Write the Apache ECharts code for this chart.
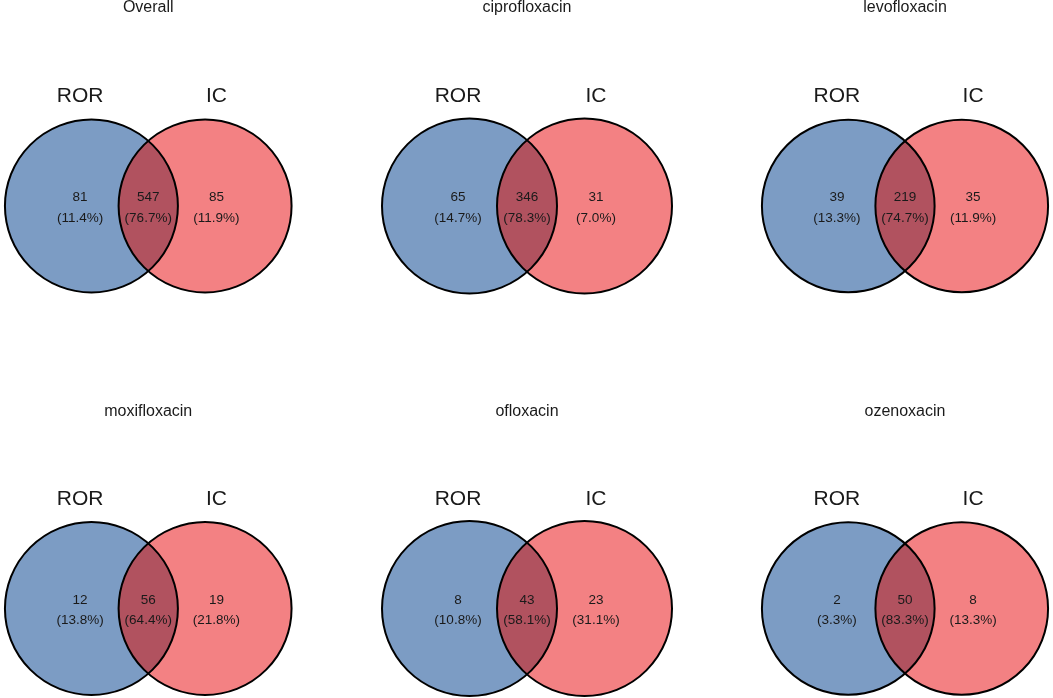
<!DOCTYPE html>
<html>
<head>
<meta charset="utf-8">
<title>Venn</title>
<script src="https://cdn.jsdelivr.net/npm/echarts@6/dist/echarts.min.js"></script>
<style>
    html, body { margin: 0; padding: 0; background: #fff; }
    #main { width: 1053px; height: 698px; }
</style>
</head>
<body>
<div id="main"></div>
<script>
// 数据
var panelTitles = ['Overall', 'ciprofloxacin', 'levofloxacin', 'moxifloxacin', 'ofloxacin', 'ozenoxacin'];
var setNames = ['ROR', 'IC'];
var rorOnly = [81, 65, 39, 12, 8, 2];
var bothSets = [547, 346, 219, 56, 43, 50];
var icOnly = [85, 31, 35, 19, 23, 8];

var chart = echarts.init(document.getElementById('main'));

// 版面
var colX = [146.5, 527, 907], rowY = [206, 609];
var D = 0.575, R = 0.875; // 圆心偏移和半径(坐标单位)
var FONT = 'Liberation Sans';
var blue = '#7c9cc4', red = '#f38183', mid = '#b1525f', ink = '#1a1a1a';

function pct(v, i) {
    var total = rorOnly[i] + bothSets[i] + icOnly[i];
    return '(' + (v / total * 100).toFixed(1) + '%)';
}

function txt(p, s, size, z) {
    return {
        type: 'text', z2: z || 10,
        style: {
            x: p[0], y: p[1], text: s, fill: ink,
            fontSize: size, fontFamily: FONT,
            align: 'center', verticalAlign: 'middle'
        }
    };
}

function renderItem(params, api) {
    var i = params.seriesIndex;
    var region = api.value(0);       // -1 左, 0 交集, 1 右
    var count = api.value(2);
    var c = api.coord([0, 0]);
    var unit = api.size([1, 0])[0];
    var r = R * unit, d = D * unit;
    var kids = [];
    if (region !== 0) {
        kids.push({
            type: 'circle', z2: 1,
            shape: { cx: c[0] + region * d, cy: c[1], r: r },
            style: { fill: region < 0 ? blue : red }
        });
        kids.push(txt(api.coord([region * 0.69, 1.10]), setNames[region < 0 ? 0 : 1], 21));
        kids.push(txt(api.coord([region * 0.69, 0.085]), String(count), 13.5));
        kids.push(txt(api.coord([region * 0.69, -0.12]), pct(count, i), 13.5));
    } else {
        var h = Math.sqrt(r * r - d * d);
        var x0 = c[0], y1 = c[1] - h, y2 = c[1] + h;
        // 交集透镜
        kids.push({
            type: 'path', z2: 2,
            shape: {
                pathData: 'M' + x0 + ' ' + y1 + ' A' + r + ' ' + r + ' 0 0 0 ' + x0 + ' ' + y2 +
                    ' A' + r + ' ' + r + ' 0 0 0 ' + x0 + ' ' + y1 + ' Z'
            },
            style: { fill: mid }
        });
        for (var k = -1; k <= 1; k += 2) {
            kids.push({
                type: 'circle', z2: 3,
                shape: { cx: c[0] + k * d, cy: c[1], r: r },
                style: { fill: 'none', stroke: '#000', lineWidth: 2 }
            });
        }
        kids.push(txt(api.coord([0, 0.085]), String(count), 13.5));
        kids.push(txt(api.coord([0, -0.12]), pct(count, i), 13.5));
        kids.push(txt(api.coord([0, 1.98]), panelTitles[i], 16));
    }
    return { type: 'group', children: kids };
}

var grids = [], xAxes = [], yAxes = [], series = [];
for (var i = 0; i < panelTitles.length; i++) {
    var cx = colX[i % 3], cy = rowY[Math.floor(i / 3)];
    grids.push({ left: cx - 150, top: cy - 90, width: 300, height: 180 });
    xAxes.push({ gridIndex: i, type: 'value', min: -1.5, max: 1.5, show: false });
    yAxes.push({ gridIndex: i, type: 'value', min: -0.9, max: 0.9, show: false });
    series.push({
        type: 'custom',
        coordinateSystem: 'cartesian2d',
        xAxisIndex: i, yAxisIndex: i,
        clip: false,
        silent: true,
        encode: { x: 0, y: 1 },
        renderItem: renderItem,
        data: [[-1, 0, rorOnly[i]], [1, 0, icOnly[i]], [0, 0, bothSets[i]]]
    });
}

chart.setOption({
    animation: false,
    backgroundColor: '#fff',
    grid: grids,
    xAxis: xAxes,
    yAxis: yAxes,
    series: series
});
</script>
</body>
</html>
